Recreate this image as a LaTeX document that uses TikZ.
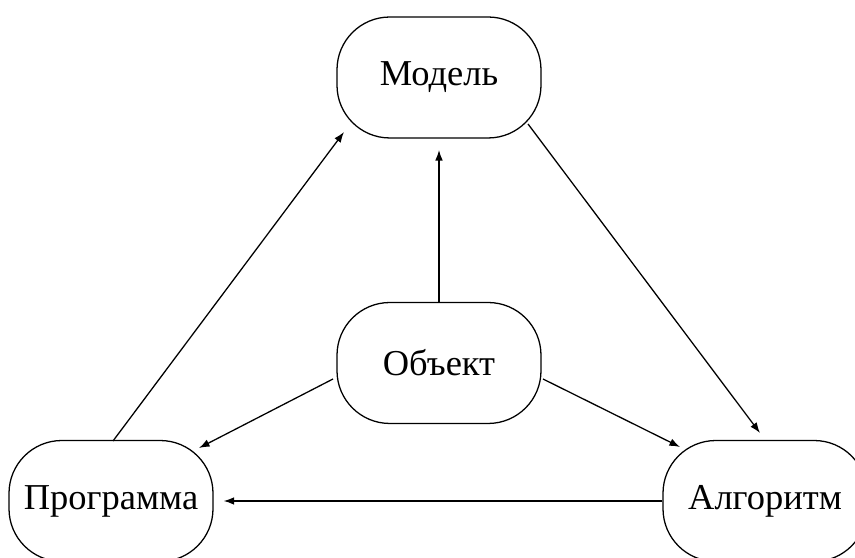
\documentclass[tikz,border=0pt]{standalone}
\usepackage{fontspec}
\setmainfont{Liberation Serif}
\usetikzlibrary{calc,arrows.meta}
\begin{document}
\begin{tikzpicture}[x=0.3125pt,y=-0.3125pt,
  block/.style={draw, rectangle, rounded corners=16.5pt,
    minimum width=63.75pt, minimum height=37.8pt, inner sep=0pt, line width=0.4pt,
    font=\fontsize{11.4pt}{13pt}\selectfont},
  conn/.style={-{Latex[length=3.3pt,width=2.4pt]}, line width=0.4pt}]
\useasboundingbox (0,0) rectangle (855,558);
\clip (0,0) rectangle (855,558);
% the four blocks
\node[block] (model) at (439,77.5) {Модель};
\node[block] (obj)   at (439,363)  {Объект};
\node[block] (prog)  at (111,501) {Программа};
\node[block] (alg)   at (765,501) {Алгоритм};
% connectors
\draw[conn] ($(prog.center)+(2,-60)$) -- ($(model.center)+(-95,54.5)$);
\draw[conn] (obj.north) -- ($(model.center)+(0,72.5)$);
\draw[conn] ($(model.center)+(89,46.5)$) -- ($(alg.center)+(-5,-68)$);
\draw[conn] ($(obj.center)+(-106,16)$) -- ($(prog.center)+(88,-53)$);
\draw[conn] ($(obj.center)+(104,16)$) -- ($(alg.center)+(-85,-54)$);
\draw[conn] (alg.west) -- ($(prog.east)+(10,0)$);
\end{tikzpicture}
\end{document}
